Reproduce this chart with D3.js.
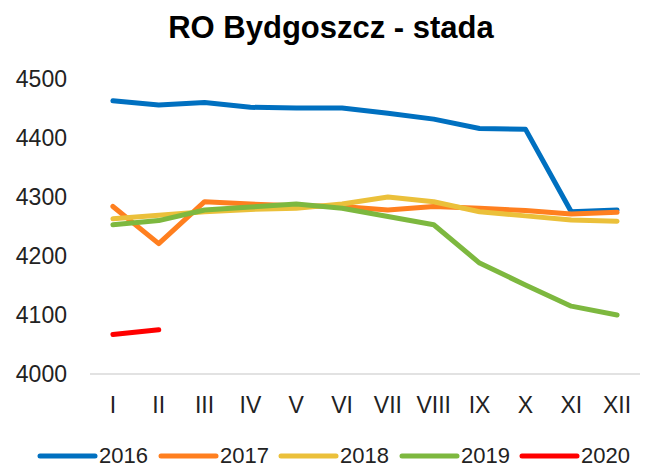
<!DOCTYPE html>
<html><head><meta charset="utf-8">
<script src="https://cdn.jsdelivr.net/npm/d3@7"></script>
<style>body{margin:0;background:#fff}svg{display:block}text{font-family:"Liberation Sans",Arial,sans-serif}</style>
</head><body><svg id="c" width="650" height="468"></svg>
<script>
const months = ["I","II","III","IV","V","VI","VII","VIII","IX","X","XI","XII"];
const yTicks = [4000,4100,4200,4300,4400,4500];
const s2016 = [4463,4456,4460,4452,4451,4451,4442,4432,4416,4415,4275,4278];
const s2017 = [4284,4221,4292,4288,4285,4284,4278,4284,4281,4277,4271,4274];
const s2018 = [4263,4269,4275,4279,4281,4288,4300,4292,4275,4268,4261,4259];
const s2019 = [4253,4260,4278,4283,4288,4281,4267,4253,4188,4151,4115,4100];
const s2020 = [4067,4075];
const seriesNames = ["2016","2017","2018","2019","2020"];
const seriesColors = ["#0070C0","#FF7F1F","#EBC03A","#7DB83F","#FF0000"];
const seriesData = [s2016,s2017,s2018,s2019,s2020];

const svg = d3.select("#c");
const x = d3.scaleBand().domain(months).range([90,640]);
const y = d3.scaleLinear().domain([4000,4500]).range([374,79]);

svg.append("text").attr("x",331).attr("y",38).attr("text-anchor","middle")
  .attr("font-size",31).attr("font-weight","bold").attr("fill","#000").text("RO Bydgoszcz - stada");

svg.append("line").attr("x1",90).attr("x2",640).attr("y1",y(4000)).attr("y2",y(4000))
  .attr("stroke","#d9d9d9").attr("stroke-width",1.5);

svg.selectAll(".yt").data(yTicks).join("text").attr("class","yt")
  .attr("x",67).attr("y",d=>y(d)).attr("dy","0.36em").attr("text-anchor","end")
  .attr("font-size",23).attr("fill","#222").text(d=>d);

svg.selectAll(".xt").data(months).join("text").attr("class","xt")
  .attr("x",d=>x(d)+x.bandwidth()/2).attr("y",405).attr("dy","0.36em").attr("text-anchor","middle")
  .attr("font-size",23).attr("fill","#222").text(d=>d);

const line = d3.line().x((d,i)=>x(months[i])+x.bandwidth()/2).y(d=>y(d));
seriesData.forEach((s,k)=>{
  svg.append("path").datum(s).attr("d",line).attr("fill","none")
    .attr("stroke",seriesColors[k]).attr("stroke-width",5)
    .attr("stroke-linecap","round").attr("stroke-linejoin","round");
});

const legX = [40,161,281,402,522];
seriesNames.forEach((n,k)=>{
  svg.append("line").attr("x1",legX[k]).attr("x2",legX[k]+55).attr("y1",456).attr("y2",456)
    .attr("stroke",seriesColors[k]).attr("stroke-width",5).attr("stroke-linecap","round");
  svg.append("text").attr("x",legX[k]+59).attr("y",455).attr("dy","0.36em")
    .attr("font-size",22).attr("fill","#222").text(n);
});
</script></body></html>
